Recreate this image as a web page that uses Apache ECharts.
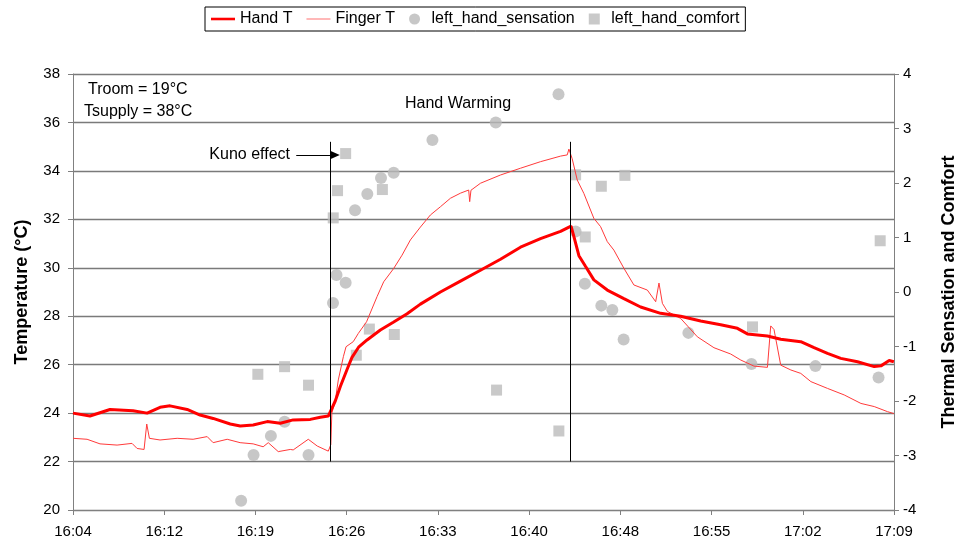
<!DOCTYPE html>
<html>
<head>
<meta charset="utf-8">
<script src="https://cdn.jsdelivr.net/npm/echarts@6/dist/echarts.min.js"></script>
<style>html,body{margin:0;padding:0;background:#fff}#c{width:959px;height:548px}</style>
</head>
<body>
<div id="c"></div>
<script>
// Times are minutes after 16:00
var axisStart = 4.8;          // 16:04:48
var axisEnd = 69.6;           // 17:09:36
var tickStep = 7.2;           // minutes between labels
var tempTicks = [20, 38, 2];
var sensTicks = [-4, 4, 1];

var handT = [[4.80,24.0],[6.14,23.88],[7.72,24.15],[9.54,24.1],[10.65,24.0],[11.67,24.24],[12.46,24.3],[13.81,24.15],[14.83,23.92],[15.86,23.78],[17.21,23.55],[18.00,23.47],[19.02,23.51],[20.13,23.65],[21.16,23.58],[22.18,23.72],[23.53,23.74],[24.32,23.83],[24.95,23.88],[25.50,24.5],[25.90,25.1],[26.43,25.8],[26.82,26.3],[27.34,26.72],[28.01,27.02],[29.06,27.43],[30.08,27.75],[31.17,28.1],[32.22,28.5],[33.80,29.0],[35.38,29.45],[36.96,29.9],[38.54,30.35],[40.12,30.85],[41.70,31.2],[43.28,31.5],[44.11,31.72],[44.33,31.3],[44.73,30.5],[45.26,30.05],[45.91,29.5],[46.97,29.08],[48.28,28.73],[49.60,28.38],[51.18,28.12],[52.76,28.0],[54.34,27.8],[55.92,27.65],[57.24,27.5],[58.03,27.27],[59.61,27.18],[60.66,27.05],[62.24,26.95],[63.29,26.7],[64.35,26.47],[65.40,26.26],[66.72,26.12],[68.04,25.92],[68.57,25.95],[69.22,26.17],[69.59,26.12]];

var fingerT = [[4.80,22.96],[5.91,22.92],[6.93,22.73],[8.28,22.68],[9.46,22.75],[9.86,22.54],[10.41,22.5],[10.62,23.55],[10.83,22.96],[11.67,22.89],[13.02,22.96],[14.28,22.92],[15.39,23.03],[15.86,22.78],[16.97,22.92],[17.99,22.78],[19.02,22.73],[19.81,22.61],[20.21,22.78],[21.0,22.41],[21.95,22.5],[22.18,22.48],[23.37,22.92],[24.08,22.64],[24.95,22.43],[25.15,22.7],[25.23,24.0],[25.50,24.5],[25.74,25.37],[26.14,26.33],[26.35,26.74],[26.92,26.95],[27.32,27.29],[27.97,27.77],[28.80,28.81],[29.32,29.42],[30.11,29.97],[30.77,30.52],[31.43,31.15],[32.22,31.68],[33.01,32.18],[33.80,32.52],[34.59,32.87],[35.38,33.08],[36.03,33.21],[36.11,32.73],[36.21,33.2],[36.96,33.49],[38.54,33.83],[40.12,34.11],[41.70,34.38],[43.28,34.61],[43.81,34.66],[43.94,34.9],[44.20,34.5],[44.60,33.62],[45.12,33.07],[45.91,32.04],[46.44,31.7],[46.97,31.08],[47.49,30.73],[48.28,29.98],[49.07,29.29],[50.13,29.08],[50.79,28.6],[51.05,29.37],[51.32,28.53],[51.71,28.2],[52.76,27.91],[54.08,27.15],[55.39,26.7],[56.71,26.44],[57.51,26.19],[58.55,25.94],[59.61,25.89],[59.87,27.6],[60.13,27.45],[60.66,25.98],[61.46,25.78],[62.24,25.64],[63.04,25.3],[64.35,25.02],[65.67,24.75],[66.99,24.4],[68.04,24.27],[69.09,24.06],[69.59,23.98]];

var sensation = [[18.07,-3.83],[19.05,-2.99],[20.42,-2.64],[21.50,-2.38],[23.39,-2.99],[25.32,-0.2],[25.60,0.31],[26.32,0.17],[27.06,1.5],[28.03,1.8],[29.11,2.09],[30.11,2.19],[33.17,2.79],[38.17,3.11],[43.12,3.63],[44.47,1.11],[45.20,0.15],[46.50,-0.25],[47.37,-0.33],[48.26,-0.87],[53.37,-0.75],[58.35,-1.32],[63.40,-1.36],[68.38,-1.57]];

var comfort = [[19.39,-1.51],[21.50,-1.37],[23.39,-1.71],[25.34,1.36],[25.68,1.86],[26.32,2.54],[27.16,-1.16],[28.19,-0.68],[29.22,1.88],[30.16,-0.78],[38.23,-1.8],[43.15,-2.55],[44.47,2.15],[45.23,1.01],[46.50,1.94],[48.36,2.14],[58.43,-0.64],[68.51,0.94]];

// Event markers: [time, temp bottom, temp top]
var kunoLine = [25.08, 22.0, 35.2];
var peakLine = [44.07, 22.0, 35.2];
var kunoArrow = [22.42, 25.50, 34.66];

function shift(arr){ return arr.map(function(p){ return [p[0]-axisStart, p[1]]; }); }
function fmt(v){
  var t = v + axisStart + 1e-6;
  var h = 16 + Math.floor(t/60);
  var m = Math.floor(t % 60);
  return h + ':' + (m<10?'0':'') + m;
}
var FONT = 'Liberation Sans, Arial, sans-serif';
var axisColor = '#808080';

var chart = echarts.init(document.getElementById('c'), null, {renderer:'canvas'});
chart.setOption({
  animation:false,
  backgroundColor:'#fff',
  textStyle:{fontFamily:FONT},
  grid:{left:73, right:65, top:74, bottom:38, containLabel:false, outerBoundsMode:'none'},
  legend:{
    top:7, left:205, itemGap:14, itemWidth:24, itemHeight:11,
    padding:[4,6,4,6],
    borderColor:'#000', borderWidth:1,
    textStyle:{fontSize:16, color:'#000', fontFamily:FONT},
    data:[
      {name:'Hand T', icon:'path://M0,0L28,0L28,3L0,3Z'},
      {name:'Finger T', icon:'path://M0,0L28,0L28,1L0,1Z'},
      {name:'left_hand_sensation', icon:'circle'},
      {name:'left_hand_comfort', icon:'path://M0,0L10,0L10,10L0,10Z'}
    ]
  },
  xAxis:{
    type:'value', min:0, max:axisEnd-axisStart, interval:tickStep,
    axisLine:{onZero:false, lineStyle:{color:axisColor, width:1}},
    axisTick:{show:true, inside:false, length:5, lineStyle:{color:axisColor}},
    axisLabel:{formatter:fmt, color:'#000', fontSize:15, margin:14, fontFamily:FONT},
    splitLine:{show:false}
  },
  yAxis:[{
    type:'value', min:tempTicks[0], max:tempTicks[1], interval:tempTicks[2],
    name:'Temperature (°C)', nameLocation:'middle', nameGap:42, nameRotate:90,
    nameTextStyle:{fontSize:18, fontWeight:'bold', color:'#000', fontFamily:FONT},
    axisLine:{show:true, lineStyle:{color:axisColor}},
    axisTick:{show:true, length:5, lineStyle:{color:axisColor}},
    axisLabel:{color:'#000', fontSize:15, margin:13, fontFamily:FONT},
    splitLine:{show:true, lineStyle:{color:'#7a7a7a', width:1.3}}
  },{
    type:'value', min:sensTicks[0], max:sensTicks[1], interval:sensTicks[2], position:'right',
    name:'Thermal Sensation and Comfort', nameLocation:'middle', nameGap:46, nameRotate:90,
    nameTextStyle:{fontSize:18, fontWeight:'bold', color:'#000', fontFamily:FONT},
    axisLine:{show:true, lineStyle:{color:axisColor}},
    axisTick:{show:true, length:5, lineStyle:{color:axisColor}},
    axisLabel:{color:'#000', fontSize:15, margin:9, fontFamily:FONT},
    splitLine:{show:false}
  }],
  series:[
    {name:'left_hand_sensation', type:'scatter', yAxisIndex:1, symbol:'circle', symbolSize:12,
     itemStyle:{color:'#b9b9b9'}, data:shift(sensation), z:2},
    {name:'left_hand_comfort', type:'scatter', yAxisIndex:1, symbol:'rect', symbolSize:11,
     itemStyle:{color:'#bbbbbb'}, data:shift(comfort), z:2},
    {name:'Finger T', type:'line', yAxisIndex:0, symbol:'none', showSymbol:false,
     lineStyle:{color:'#ff3a3a', width:1}, itemStyle:{color:'#ff5a5a'}, data:shift(fingerT), z:3},
    {name:'Hand T', type:'line', yAxisIndex:0, symbol:'none', showSymbol:false,
     lineStyle:{color:'#ff0000', width:3}, itemStyle:{color:'#ff0000'}, data:shift(handT), z:4,
     markLine:{
       silent:true, symbol:['none','none'], label:{show:false},
       lineStyle:{color:'#000', width:1, type:'solid'},
       data:[
         [{coord:[kunoLine[0]-axisStart, kunoLine[1]]},{coord:[kunoLine[0]-axisStart, kunoLine[2]]}],
         [{coord:[peakLine[0]-axisStart, peakLine[1]]},{coord:[peakLine[0]-axisStart, peakLine[2]]}],
         [{coord:[kunoArrow[0]-axisStart, kunoArrow[2]], symbol:'none'},{coord:[kunoArrow[1]-axisStart, kunoArrow[2]], symbol:'triangle', symbolSize:[8,9], symbolRotate:-90}]
       ]
     }}
  ],
  graphic:[
    {type:'text', x:88, y:90, style:{text:'Troom = 19°C', font:'16px '+FONT, fill:'#000', align:'left', verticalAlign:'middle'}},
    {type:'text', x:84, y:112, style:{text:'Tsupply = 38°C', font:'16px '+FONT, fill:'#000', align:'left', verticalAlign:'middle'}},
    {type:'text', x:458, y:104, style:{text:'Hand Warming', font:'16px '+FONT, fill:'#000', align:'center', verticalAlign:'middle'}},
    {type:'text', x:290, y:155, style:{text:'Kuno effect', font:'16px '+FONT, fill:'#000', align:'right', verticalAlign:'middle'}}
  ]
});
</script>
</body>
</html>
